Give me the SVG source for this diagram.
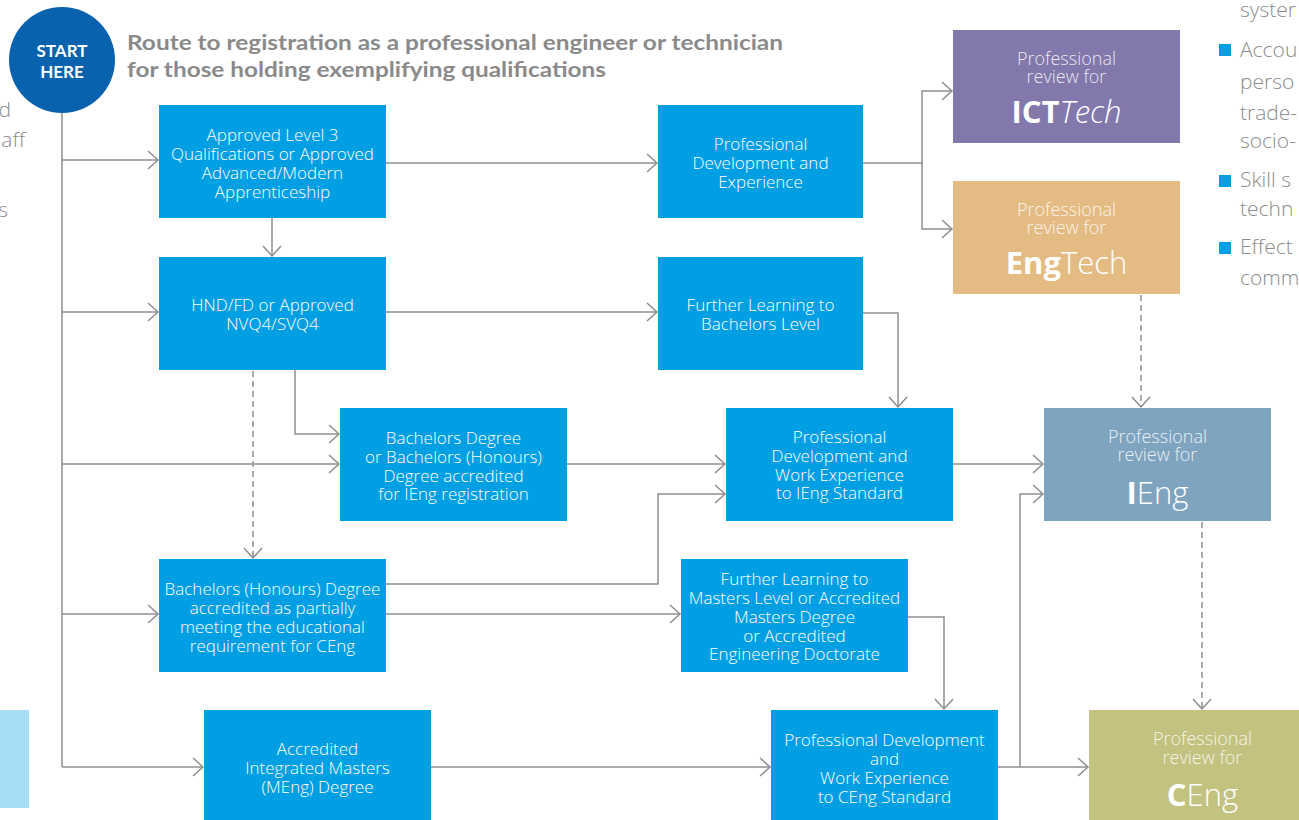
<svg xmlns="http://www.w3.org/2000/svg" width="1299" height="820" viewBox="0 0 1299 820">
<style>
.bx{fill:#009fe3}
.t{font-family:"Open Sans","Liberation Sans",sans-serif;font-weight:300;font-size:17px;fill:#ffffff;text-anchor:middle}
.rv{font-family:"Open Sans","Liberation Sans",sans-serif;font-weight:300;font-size:18px;fill:#ffffff;fill-opacity:0.85;text-anchor:middle}
.big{font-family:"Open Sans","Liberation Sans",sans-serif;font-weight:300;font-size:31px;fill:#ffffff;text-anchor:middle}
.b{font-weight:700}
.frag{font-family:"Open Sans","Liberation Sans",sans-serif;font-weight:300;font-size:21px;fill:#8c8c8c}
.ln{fill:none;stroke:#8e8e8e;stroke-width:1.5}
.dash{stroke-dasharray:6 4}
</style>
<defs>
<marker id="a" markerUnits="userSpaceOnUse" markerWidth="14" markerHeight="22" viewBox="-12 -11 14 22" refX="0" refY="0" orient="auto">
<path d="M-10,-9 L0,0 L-10,9" fill="none" stroke="#8e8e8e" stroke-width="1.5"/>
</marker>
</defs>
<rect width="1299" height="820" fill="#ffffff"/>

<g id="page-fragments">
<text class="frag" x="11" y="117" text-anchor="end">d</text>
<text class="frag" x="25" y="147" text-anchor="end">aff</text>
<text class="frag" x="8" y="217" text-anchor="end">s</text>
<rect x="0" y="710" width="29" height="98" fill="#a8ddf6"/>
<text class="frag" x="1240" y="17">syster</text>
<rect x="1219" y="44" width="12" height="12" fill="#009fe3"/>
<text class="frag" x="1240" y="57">Accou</text>
<text class="frag" x="1240" y="89">perso</text>
<text class="frag" x="1240" y="120">trade-</text>
<text class="frag" x="1240" y="148">socio-</text>
<rect x="1219" y="175" width="12" height="12" fill="#009fe3"/>
<text class="frag" x="1240" y="187">Skill s</text>
<text class="frag" x="1240" y="216">techn</text>
<rect x="1219" y="242" width="12" height="12" fill="#009fe3"/>
<text class="frag" x="1240" y="254">Effect</text>
<text class="frag" x="1240" y="285">comm</text>
</g>

<g id="connectors">
<path class="ln" d="M62,113 V767"/>
<path class="ln" d="M62,160 H158" marker-end="url(#a)"/>
<path class="ln" d="M62,312 H158" marker-end="url(#a)"/>
<path class="ln" d="M62,464 H339" marker-end="url(#a)"/>
<path class="ln" d="M62,614 H158" marker-end="url(#a)"/>
<path class="ln" d="M62,767 H203" marker-end="url(#a)"/>
<path class="ln" d="M386,163 H657" marker-end="url(#a)"/>
<path class="ln" d="M272,218 V256" marker-end="url(#a)"/>
<path class="ln" d="M386,312 H657" marker-end="url(#a)"/>
<path class="ln" d="M295,370 V434 H339" marker-end="url(#a)"/>
<path class="ln dash" d="M253,371 V558" marker-end="url(#a)"/>
<path class="ln" d="M567,464 H725" marker-end="url(#a)"/>
<path class="ln" d="M386,584 H658 V494 H725" marker-end="url(#a)"/>
<path class="ln" d="M386,614 H680" marker-end="url(#a)"/>
<path class="ln" d="M863,163 H922 V91 H952" marker-end="url(#a)"/>
<path class="ln" d="M922,163 V229 H952" marker-end="url(#a)"/>
<path class="ln" d="M863,313 H898 V407" marker-end="url(#a)"/>
<path class="ln" d="M953,464 H1043" marker-end="url(#a)"/>
<path class="ln" d="M908,617 H944 V709" marker-end="url(#a)"/>
<path class="ln" d="M431,767 H770" marker-end="url(#a)"/>
<path class="ln" d="M998,767 H1088" marker-end="url(#a)"/>
<path class="ln" d="M1020,767 V494 H1043" marker-end="url(#a)"/>
<path class="ln dash" d="M1141,295 V407" marker-end="url(#a)"/>
<path class="ln dash" d="M1202,522 V709" marker-end="url(#a)"/>
</g>

<g id="start">
<circle cx="62" cy="60" r="53" fill="#0862ae"/>
<text x="62" y="57" font-family="Lato,'Liberation Sans',sans-serif" font-weight="700" font-size="17" fill="#ffffff" text-anchor="middle">START</text>
<text x="62" y="78" font-family="Lato,'Liberation Sans',sans-serif" font-weight="700" font-size="17" fill="#ffffff" text-anchor="middle">HERE</text>
</g>

<g id="title" font-family="Lato,'Liberation Sans',sans-serif" font-weight="700" font-size="20" fill="#8a8a8a">
<text x="127" y="50" textLength="656" lengthAdjust="spacingAndGlyphs">Route to registration as a professional engineer or technician</text>
<text x="127" y="77" textLength="479" lengthAdjust="spacingAndGlyphs">for those holding exemplifying qualifications</text>
</g>

<g id="level3">
<rect class="bx" x="159" y="105" width="227" height="113"/>
<text class="t" x="272.5" y="141">Approved Level 3</text>
<text class="t" x="272.5" y="160">Qualifications or Approved</text>
<text class="t" x="272.5" y="179">Advanced/Modern</text>
<text class="t" x="272.5" y="198">Apprenticeship</text>
</g>

<g id="hnd">
<rect class="bx" x="159" y="257" width="227" height="113"/>
<text class="t" x="272.5" y="311">HND/FD or Approved</text>
<text class="t" x="272.5" y="330">NVQ4/SVQ4</text>
</g>

<g id="bachelors">
<rect class="bx" x="340" y="408" width="227" height="113"/>
<text class="t" x="453.5" y="444">Bachelors Degree</text>
<text class="t" x="453.5" y="463">or Bachelors (Honours)</text>
<text class="t" x="453.5" y="482">Degree accredited</text>
<text class="t" x="453.5" y="500">for IEng registration</text>
</g>

<g id="honours">
<rect class="bx" x="159" y="559" width="227" height="113"/>
<text class="t" x="272.5" y="595">Bachelors (Honours) Degree</text>
<text class="t" x="272.5" y="614">accredited as partially</text>
<text class="t" x="272.5" y="633">meeting the educational</text>
<text class="t" x="272.5" y="652">requirement for CEng</text>
</g>

<g id="meng">
<rect class="bx" x="204" y="710" width="227" height="110"/>
<text class="t" x="317.5" y="755">Accredited</text>
<text class="t" x="317.5" y="774">Integrated Masters</text>
<text class="t" x="317.5" y="793">(MEng) Degree</text>
</g>

<g id="prof-dev">
<rect class="bx" x="658" y="105" width="205" height="113"/>
<text class="t" x="760.5" y="150">Professional</text>
<text class="t" x="760.5" y="169">Development and</text>
<text class="t" x="760.5" y="188">Experience</text>
</g>

<g id="further-bachelors">
<rect class="bx" x="658" y="257" width="205" height="113"/>
<text class="t" x="760.5" y="311">Further Learning to</text>
<text class="t" x="760.5" y="330">Bachelors Level</text>
</g>

<g id="pd-ieng">
<rect class="bx" x="726" y="408" width="227" height="113"/>
<text class="t" x="839.5" y="443">Professional</text>
<text class="t" x="839.5" y="462">Development and</text>
<text class="t" x="839.5" y="481">Work Experience</text>
<text class="t" x="839.5" y="499">to IEng Standard</text>
</g>

<g id="further-masters">
<rect class="bx" x="681" y="559" width="227" height="113"/>
<text class="t" x="794.5" y="585">Further Learning to</text>
<text class="t" x="794.5" y="604">Masters Level or Accredited</text>
<text class="t" x="794.5" y="623">Masters Degree</text>
<text class="t" x="794.5" y="642">or Accredited</text>
<text class="t" x="794.5" y="660">Engineering Doctorate</text>
</g>

<g id="pd-ceng">
<rect class="bx" x="771" y="710" width="227" height="110"/>
<text class="t" x="884.5" y="746">Professional Development</text>
<text class="t" x="884.5" y="765">and</text>
<text class="t" x="884.5" y="784">Work Experience</text>
<text class="t" x="884.5" y="803">to CEng Standard</text>
</g>

<g id="ictt">
<rect x="953" y="30" width="227" height="113" fill="#8278ab"/>
<text class="rv" x="1066.5" y="65">Professional</text>
<text class="rv" x="1066.5" y="83">review for</text>
<text class="big" x="1066.5" y="123"><tspan class="b">ICT</tspan><tspan font-style="italic">Tech</tspan></text>
</g>

<g id="engtech">
<rect x="953" y="181" width="227" height="113" fill="#e5bb84"/>
<text class="rv" x="1066.5" y="216">Professional</text>
<text class="rv" x="1066.5" y="234">review for</text>
<text class="big" x="1066.5" y="274"><tspan class="b">Eng</tspan>Tech</text>
</g>

<g id="ieng">
<rect x="1044" y="408" width="227" height="113" fill="#7fa4bf"/>
<text class="rv" x="1157.5" y="443">Professional</text>
<text class="rv" x="1157.5" y="461">review for</text>
<text class="big" x="1157.5" y="504"><tspan class="b">I</tspan>Eng</text>
</g>

<g id="ceng">
<rect x="1089" y="710" width="227" height="110" fill="#c4c280"/>
<text class="rv" x="1202.5" y="745">Professional</text>
<text class="rv" x="1202.5" y="764">review for</text>
<text class="big" x="1202.5" y="806"><tspan class="b">C</tspan>Eng</text>
</g>
</svg>
